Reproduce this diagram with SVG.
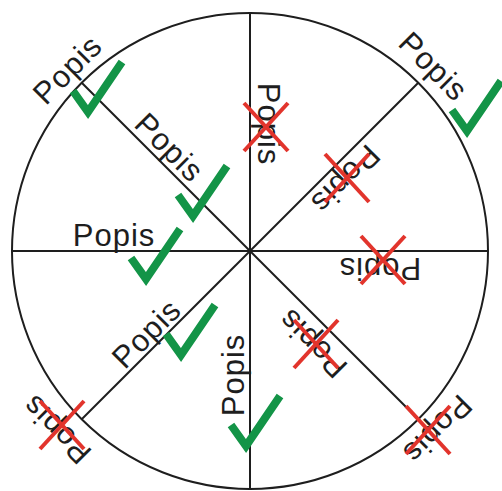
<svg xmlns="http://www.w3.org/2000/svg" width="502" height="491" viewBox="0 0 502 491">
<defs>
<style>
.ln{stroke:#1e1e1e;stroke-width:2;fill:none}
.t{font-family:"Liberation Sans",Arial,sans-serif;font-size:31px;fill:#1e1e1e;text-anchor:middle;letter-spacing:1px}
.ok{fill:none;stroke:#139447;stroke-width:8;stroke-linejoin:miter;stroke-linecap:butt}
.no{stroke:#e2342c;stroke-width:4;stroke-linecap:butt}
</style>
<path id="chk" d="M-15,-21 L0,0 L34,-50"/>
<g id="cross"><line x1="-22" y1="-24" x2="22" y2="24"/><line x1="22" y1="-24" x2="-22" y2="24"/></g>
</defs>
<rect width="502" height="491" fill="#ffffff"/>
<g id="wheel">
<circle class="ln" cx="250" cy="251" r="238"/>
<line class="ln" x1="250" y1="13" x2="250" y2="489"/>
<line class="ln" x1="12" y1="251" x2="488" y2="251"/>
<line class="ln" x1="81.7" y1="82.7" x2="418.3" y2="419.3"/>
<line class="ln" x1="418.3" y1="82.7" x2="81.7" y2="419.3"/>
</g>
<g id="label-left"><text class="t" transform="translate(114,246)">Popis</text><use href="#chk" class="ok" x="146" y="279"/></g>
<g id="label-nw-outer"><text class="t" transform="translate(75,77) rotate(-45)">Popis</text><use href="#chk" class="ok" x="88" y="112"/></g>
<g id="label-nw-inner"><text class="t" transform="translate(162,155) rotate(45)">Popis</text><use href="#chk" class="ok" x="193" y="216"/></g>
<g id="label-ne-outer"><text class="t" transform="translate(426,74) rotate(45)">Popis</text><use href="#chk" class="ok" x="467" y="131"/></g>
<g id="label-top"><text class="t" transform="translate(258,124) rotate(90)">Popis</text><use href="#cross" class="no" x="266" y="127"/></g>
<g id="label-ne-inner"><text class="t" transform="translate(338,172) rotate(135)">Popis</text><use href="#cross" class="no" x="347" y="178"/></g>
<g id="label-right"><text class="t" transform="translate(380,258) rotate(180)">Popis</text><use href="#cross" class="no" x="383" y="260"/></g>
<g id="label-se-inner"><text class="t" transform="translate(320,336) rotate(-135)">Popis</text><use href="#cross" class="no" x="316" y="344"/></g>
<g id="label-se-outer"><text class="t" transform="translate(430,422) rotate(135)">Popis</text><use href="#cross" class="no" x="428" y="430"/></g>
<g id="label-sw-outer"><text class="t" transform="translate(64,422) rotate(-135)">Popis</text><use href="#cross" class="no" x="62" y="425"/></g>
<g id="label-sw-inner"><text class="t" transform="translate(154,341) rotate(-45)">Popis</text><use href="#chk" class="ok" x="181" y="355"/></g>
<g id="label-bottom"><text class="t" transform="translate(244,375) rotate(-90)">Popis</text><use href="#chk" class="ok" x="246" y="446"/></g>
</svg>
